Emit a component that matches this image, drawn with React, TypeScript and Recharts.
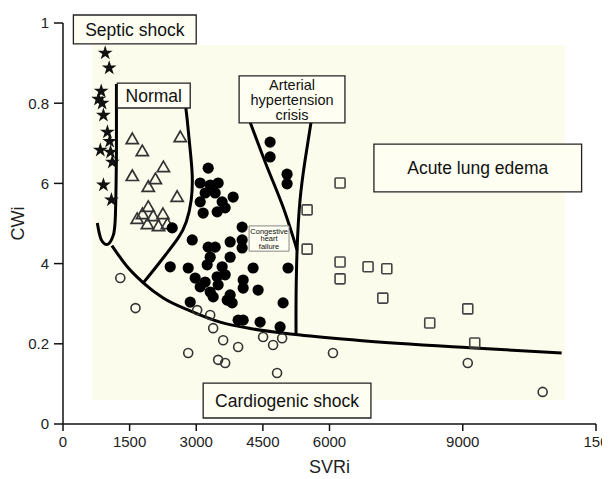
import React from "react"
import { ComposedChart, Scatter, Line, XAxis, YAxis, ReferenceArea, Symbols } from "recharts"

// patients, SVRi / CWi
const septicShock = [
  { x: 950, y: 0.925 }, { x: 1040, y: 0.888 }, { x: 860, y: 0.83 }, { x: 800, y: 0.81 },
  { x: 880, y: 0.8 }, { x: 910, y: 0.77 }, { x: 1000, y: 0.728 }, { x: 1050, y: 0.705 },
  { x: 840, y: 0.683 }, { x: 1070, y: 0.678 }, { x: 1110, y: 0.653 }, { x: 910, y: 0.596 },
  { x: 1090, y: 0.559 },
]

const normal = [
  { x: 1560, y: 0.708 }, { x: 1785, y: 0.678 }, { x: 2640, y: 0.713 }, { x: 1560, y: 0.616 },
  { x: 2260, y: 0.638 }, { x: 2080, y: 0.608 }, { x: 1920, y: 0.589 }, { x: 2570, y: 0.564 },
  { x: 1920, y: 0.539 }, { x: 1790, y: 0.521 }, { x: 2030, y: 0.516 }, { x: 2250, y: 0.521 },
  { x: 1670, y: 0.509 }, { x: 1900, y: 0.496 }, { x: 2150, y: 0.491 }, { x: 2350, y: 0.496 },
]

const heartFailure = [
  { x: 3269, y: 0.638 }, { x: 3089, y: 0.601 }, { x: 3314, y: 0.596 }, { x: 3493, y: 0.601 },
  { x: 3201, y: 0.576 }, { x: 3426, y: 0.576 }, { x: 3089, y: 0.554 }, { x: 3583, y: 0.554 },
  { x: 3831, y: 0.566 }, { x: 3156, y: 0.526 }, { x: 3471, y: 0.529 }, { x: 3651, y: 0.539 },
  { x: 2459, y: 0.489 }, { x: 4033, y: 0.491 }, { x: 2909, y: 0.459 }, { x: 3269, y: 0.441 },
  { x: 3426, y: 0.441 }, { x: 3763, y: 0.454 }, { x: 4033, y: 0.459 }, { x: 4033, y: 0.439 },
  { x: 3314, y: 0.416 }, { x: 3763, y: 0.416 }, { x: 2414, y: 0.392 }, { x: 2819, y: 0.389 },
  { x: 3246, y: 0.397 }, { x: 3583, y: 0.392 }, { x: 4280, y: 0.389 }, { x: 5067, y: 0.389 },
  { x: 2976, y: 0.364 }, { x: 3201, y: 0.354 }, { x: 3471, y: 0.367 }, { x: 3651, y: 0.372 },
  { x: 4056, y: 0.359 }, { x: 3089, y: 0.342 }, { x: 3314, y: 0.329 }, { x: 3493, y: 0.347 },
  { x: 4056, y: 0.339 }, { x: 4393, y: 0.334 }, { x: 3763, y: 0.322 }, { x: 2864, y: 0.304 },
  { x: 3381, y: 0.317 }, { x: 3808, y: 0.302 }, { x: 4955, y: 0.302 }, { x: 3696, y: 0.309 },
  { x: 3943, y: 0.259 }, { x: 4056, y: 0.259 }, { x: 4438, y: 0.254 }, { x: 4888, y: 0.242 },
  { x: 4663, y: 0.703 }, { x: 4663, y: 0.666 }, { x: 5045, y: 0.623 }, { x: 5045, y: 0.599 },
]

const cardiogenicShock = [
  { x: 1290, y: 0.364 }, { x: 1632, y: 0.289 }, { x: 2819, y: 0.177 }, { x: 3021, y: 0.284 },
  { x: 3314, y: 0.272 }, { x: 3381, y: 0.239 }, { x: 3606, y: 0.209 }, { x: 3943, y: 0.192 },
  { x: 3493, y: 0.16 }, { x: 3651, y: 0.152 }, { x: 4505, y: 0.217 }, { x: 4730, y: 0.197 },
  { x: 4933, y: 0.214 }, { x: 4820, y: 0.127 }, { x: 6078, y: 0.177 }, { x: 9113, y: 0.152 },
  { x: 10799, y: 0.08 },
]

const lungEdema = [
  { x: 6238, y: 0.601 }, { x: 5496, y: 0.534 }, { x: 5496, y: 0.436 }, { x: 6238, y: 0.404 },
  { x: 6238, y: 0.362 }, { x: 6868, y: 0.392 }, { x: 7290, y: 0.387 }, { x: 7200, y: 0.314 },
  { x: 8257, y: 0.252 }, { x: 9113, y: 0.287 }, { x: 9270, y: 0.202 },
]

// region borders
const septicBorder = [
  { x: 1203, y: 0.848 }, { x: 1203, y: 0.683 }, { x: 1180, y: 0.521 }, { x: 1133, y: 0.471 },
  { x: 1021, y: 0.449 }, { x: 863, y: 0.459 }, { x: 773, y: 0.501 },
]
const normalBorder = [
  { x: 2707, y: 0.845 }, { x: 2797, y: 0.758 }, { x: 2864, y: 0.683 }, { x: 2909, y: 0.621 },
  { x: 2887, y: 0.559 }, { x: 2774, y: 0.504 }, { x: 2594, y: 0.464 }, { x: 2324, y: 0.424 },
  { x: 2077, y: 0.389 }, { x: 1808, y: 0.352 },
]
const cardiogenicBorder = [
  { x: 1100, y: 0.445 }, { x: 1448, y: 0.392 }, { x: 1808, y: 0.352 }, { x: 2257, y: 0.314 },
  { x: 2864, y: 0.282 }, { x: 3538, y: 0.254 }, { x: 4280, y: 0.237 }, { x: 5180, y: 0.224 },
  { x: 6618, y: 0.209 }, { x: 9158, y: 0.19 }, { x: 11226, y: 0.177 },
]
const hypertensionLeft = [
  { x: 4213, y: 0.753 }, { x: 4595, y: 0.641 }, { x: 4955, y: 0.541 }, { x: 5270, y: 0.434 },
]
const hypertensionRight = [
  { x: 5585, y: 0.753 }, { x: 5450, y: 0.658 }, { x: 5337, y: 0.559 }, { x: 5270, y: 0.434 },
  { x: 5247, y: 0.309 }, { x: 5247, y: 0.222 },
]

const xTicks = [0, 1500, 3000, 4500, 6000, 9000, 12000]
const xTickLabels = ["0", "1500", "3000", "4500", "6000", "9000", "150"]
const yTicks = [0, 0.2, 0.4, 0.6, 0.8, 1]
const yTickLabels = ["0", "0.2", "4", "6", "0.8", "1"]

const plotZone = { x1: 661, x2: 11294, y1: 0.06, y2: 0.945 }

const regionLabels = [
  { lines: ["Septic shock"], x1: 234, x2: 2999, y1: 0.948, y2: 1.02 },
  { lines: ["Normal"], x1: 1223, x2: 2864, y1: 0.788, y2: 0.85 },
  { lines: ["Arterial", "hypertension", "crisis"], x1: 3965, x2: 6348, y1: 0.751, y2: 0.868 },
  { lines: ["Acute lung edema"], x1: 7000, x2: 11676, y1: 0.579, y2: 0.698 },
  { lines: ["Cardiogenic shock"], x1: 3156, x2: 6933, y1: 0.015, y2: 0.102 },
  { lines: ["Congestive", "heart", "failure"], x1: 4190, x2: 5089, y1: 0.431, y2: 0.494 },
]

const FONT = '"Liberation Sans", Arial, sans-serif'
const BG = "#fcfcec"

const StarDot = (p: any) => <Symbols cx={p.cx} cy={p.cy} type="star" size={68} fill="#111" />
const TriangleDot = (p: any) => (
  <Symbols cx={p.cx} cy={p.cy} type="triangle" size={64} fill="none" stroke="#333" strokeWidth={1.7} />
)
const FilledDot = (p: any) => <circle cx={p.cx} cy={p.cy} r={5.6} fill="#000" />
const OpenDot = (p: any) => <circle cx={p.cx} cy={p.cy} r={4.5} fill="none" stroke="#333" strokeWidth={1.6} />
const SquareDot = (p: any) => (
  <rect x={p.cx - 5} y={p.cy - 5} width={10} height={10} rx={1} fill="none" stroke="#444" strokeWidth={1.6} />
)

function boxText(lines: string[], small: boolean) {
  const fontSize = small ? 7.5 : lines.length > 1 ? 14.5 : 17.5
  const lh = small ? 7.6 : 15
  return (props: any) => {
    const { x, y, width, height } = props.viewBox
    const cx = x + width / 2
    const top = y + height / 2 - ((lines.length - 1) * lh) / 2
    return (
      <text textAnchor="middle" fontSize={fontSize} fontFamily={FONT} fill="#111">
        {lines.map((l, i) => (
          <tspan key={i} x={cx} y={top + i * lh} dy="0.36em">
            {l}
          </tspan>
        ))}
      </text>
    )
  }
}

export default function App() {
  return (
    <ComposedChart
      width={602}
      height={471}
      margin={{ top: 15, right: 14, left: 0, bottom: 5 }}
      style={{ fontFamily: FONT }}
    >
      <XAxis
        type="number"
        dataKey="x"
        domain={[0, 12000]}
        ticks={xTicks}
        interval={0}
        allowDataOverflow
        height={50}
        tickFormatter={(v: number) => xTickLabels[xTicks.indexOf(v)]}
        tick={{ fill: "#222", fontSize: 15 }}
        tickSize={7}
        tickMargin={5}
        stroke="#111"
        strokeWidth={1.5}
        label={{
          content: (p: any) => (
            <text x={p.viewBox.x + p.viewBox.width / 2} y={p.viewBox.y + 49} textAnchor="middle" fontSize={18} fill="#222">
              SVRi
            </text>
          ),
        }}
      />
      <YAxis
        type="number"
        dataKey="y"
        domain={[0, 1]}
        ticks={yTicks}
        interval={0}
        allowDataOverflow
        width={55}
        tickFormatter={(v: number) => yTickLabels[yTicks.indexOf(v)]}
        tick={{ fill: "#222", fontSize: 15 }}
        tickSize={9}
        tickMargin={5}
        stroke="#111"
        strokeWidth={1.5}
        label={{
          content: (p: any) => {
            const cx = 16
            const cy = p.viewBox.y + p.viewBox.height / 2
            return (
              <text x={cx} y={cy} textAnchor="middle" fontSize={18} fill="#222" transform={`rotate(-90 ${cx} ${cy})`}>
                CWi
              </text>
            )
          },
        }}
      />

      <ReferenceArea {...plotZone} fill={BG} fillOpacity={1} stroke="none" zIndex={-50} />

      <Line data={septicBorder} dataKey="y" type="natural" stroke="#000" strokeWidth={3} dot={false} isAnimationActive={false} />
      <Line data={normalBorder} dataKey="y" type="natural" stroke="#000" strokeWidth={3} dot={false} isAnimationActive={false} />
      <Line data={cardiogenicBorder} dataKey="y" type="monotone" stroke="#000" strokeWidth={3} dot={false} isAnimationActive={false} />
      <Line data={hypertensionLeft} dataKey="y" type="natural" stroke="#000" strokeWidth={3} dot={false} isAnimationActive={false} />
      <Line data={hypertensionRight} dataKey="y" type="natural" stroke="#000" strokeWidth={3} dot={false} isAnimationActive={false} />

      <Scatter data={septicShock} dataKey="y" shape={StarDot} isAnimationActive={false} />
      <Scatter data={normal} dataKey="y" shape={TriangleDot} isAnimationActive={false} />
      <Scatter data={heartFailure} dataKey="y" shape={FilledDot} isAnimationActive={false} />
      <Scatter data={cardiogenicShock} dataKey="y" shape={OpenDot} isAnimationActive={false} />
      <Scatter data={lungEdema} dataKey="y" shape={SquareDot} isAnimationActive={false} />

      {regionLabels.map((r, i) => {
        const small = r.lines[0] === "Congestive"
        return (
          <ReferenceArea
            key={i}
            x1={r.x1}
            x2={r.x2}
            y1={r.y1}
            y2={r.y2}
            ifOverflow="visible"
            fill="#fefef2"
            fillOpacity={1}
            stroke={small ? "#888" : "#222"}
            strokeWidth={small ? 1 : 1.3}
            zIndex={1500}
            label={{ content: boxText(r.lines, small) }}
          />
        )
      })}
    </ComposedChart>
  )
}
